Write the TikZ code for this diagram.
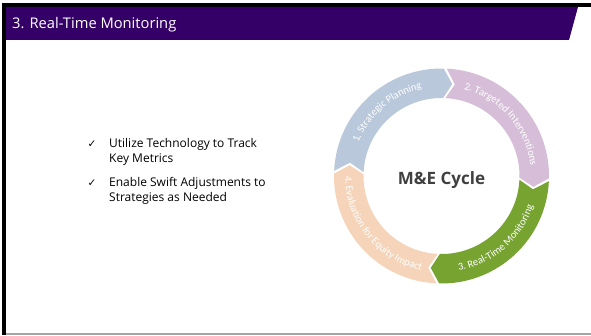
\documentclass[tikz,border=0pt]{standalone}
\usepackage{fontspec}
\setmainfont{Open Sans}
\newfontfamily\ringfont{Carlito}
\newfontfamily\symfont{DejaVu Sans}
\usetikzlibrary{decorations.text}
\definecolor{banner}{RGB}{52,0,104}
\definecolor{segblue}{RGB}{185,200,218}
\definecolor{segpurple}{RGB}{214,190,216}
\definecolor{seggreen}{RGB}{119,163,49}
\definecolor{segpeach}{RGB}{245,212,185}
\definecolor{metext}{RGB}{64,64,64}
\definecolor{rulegray}{RGB}{165,165,165}
\tikzset{
  bullettext/.style={anchor=base west, inner sep=0, font=\fontsize{12}{14.5}\selectfont, text=black},
  checkmark/.style={anchor=base west, inner sep=0, font=\symfont\fontsize{10.5}{11}\selectfont, text=black},
  ringlabel/.style={decorate, decoration={text along path, text align=center, text color=white, text={|\ringfont\fontsize{10.5}{11}\selectfont|#1}}}
}
\begin{document}
\begin{tikzpicture}[x=1pt,y=1pt]
\useasboundingbox (0,0) rectangle (591,335);
\fill[white] (0,0) rectangle (591,335);
% frame
\fill[black] (2,0) rectangle (6,332);
\fill[black] (2,328) rectangle (591,332);
\fill[rulegray] (6,0.3) rectangle (591,2);
% banner
\fill[banner] (6,328) -- (578,328) -- (569,295) -- (6,295) -- cycle;
\node[anchor=base west, inner sep=0, text=white, font=\fontsize{14.7}{17}\selectfont] (title) at (12,306.5) {3. Real-Time Monitoring};
% bullets
\node[checkmark] (c1) at (87.5,187.5) {✓};
\node[bullettext] (b1a) at (109,187) {Utilize Technology to Track};
\node[bullettext] (b1b) at (109,172.5) {Key Metrics};
\node[checkmark] (c2) at (87.5,149) {✓};
\node[bullettext] (b2a) at (109,148.5) {Enable Swift Adjustments to};
\node[bullettext] (b2b) at (109,133.5) {Strategies as Needed};
% ring
\begin{scope}[shift={(441.5,159)}]
\def\R{107.5}\def\r{78}\def\Rm{92.5}\def\g{0.8}\def\d{5.5}
\foreach \bs/\col in {178/segblue, 88/segpurple, -2/seggreen, -92/segpeach}{
  \pgfmathsetmacro\be{\bs-90}
  \pgfmathsetmacro\aa{\bs-\g}
  \pgfmathsetmacro\ab{\be+\g}
  \pgfmathsetmacro\at{\be+\g-\d}
  \pgfmathsetmacro\an{\bs-\g-\d}
  \fill[\col] (\aa:\R) arc[start angle=\aa, end angle=\ab, radius=\R]
    -- (\at:\Rm) -- (\ab:\r)
    arc[start angle=\ab, end angle=\aa, radius=\r]
    -- (\an:\Rm) -- cycle;
}
\path[ringlabel={1. Strategic Planning}] (172:89.5) arc[start angle=172, end angle=89, radius=89.5];
\path[ringlabel={2. Targeted Interventions}] (82:89.5) arc[start angle=82, end angle=0, radius=89.5];
\path[ringlabel={3. Real-Time Monitoring}] (-90:96.5) arc[start angle=-90, end angle=-8, radius=96.5];
\path[ringlabel={4. Evaluation for Equity Impact}] (178:96.5) arc[start angle=178, end angle=260, radius=96.5];
\node[anchor=base, inner sep=0, font=\bfseries\fontsize{17}{20}\selectfont, text=metext] (mec) at (0,-8) {M\&E Cycle};
\end{scope}
\end{tikzpicture}
\end{document}
